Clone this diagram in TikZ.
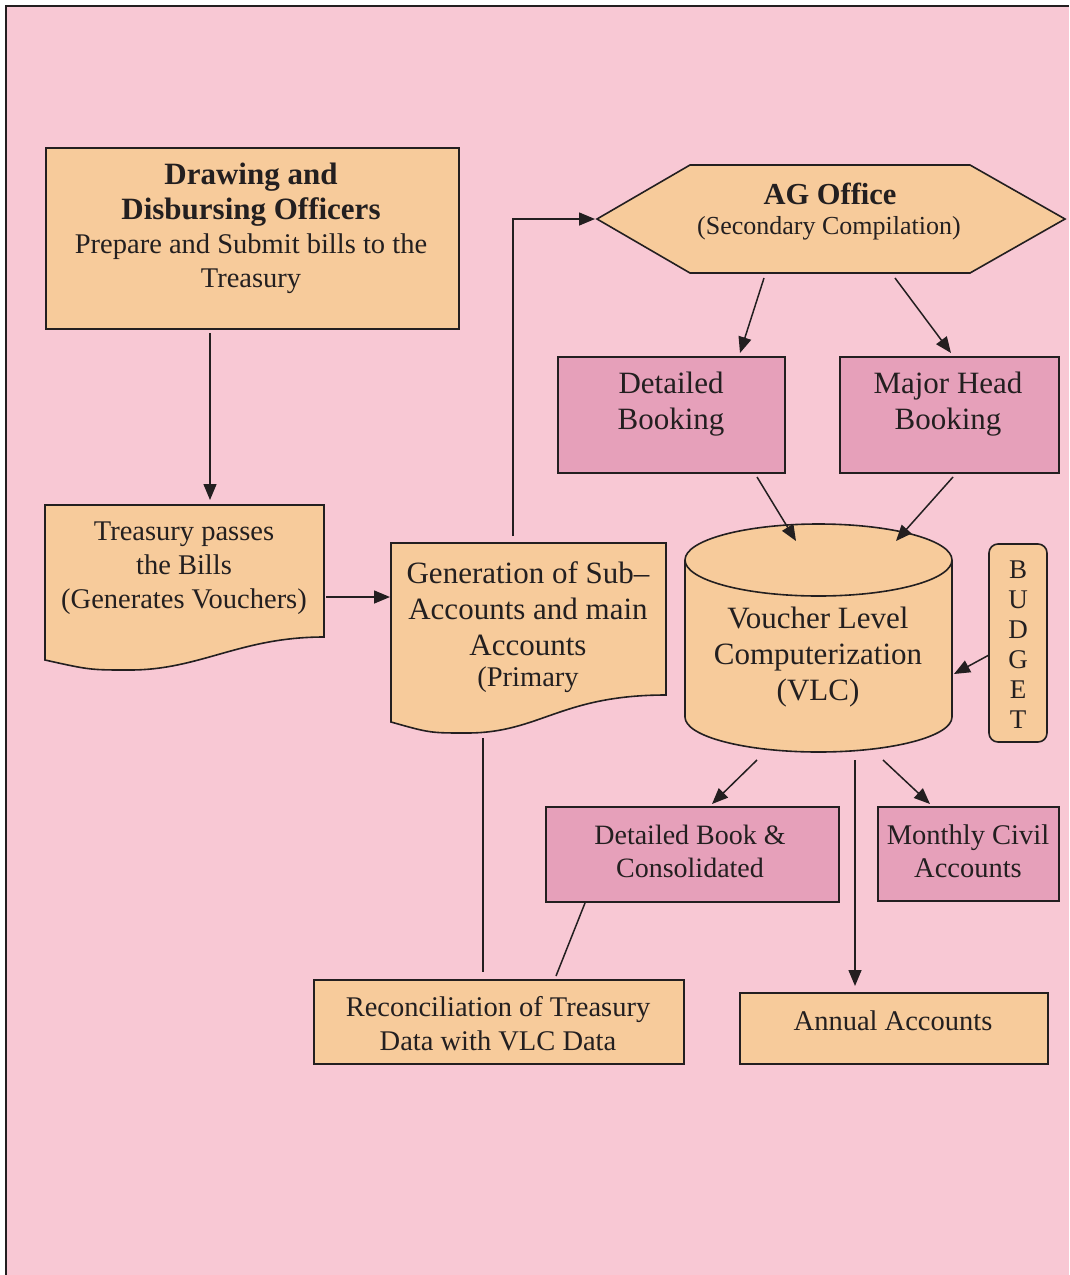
\documentclass[tikz,border=0pt]{standalone}
\usepackage{fontspec}
\setmainfont{Liberation Serif}
\usetikzlibrary{arrows.meta}
\definecolor{bgpink}{RGB}{248,200,212}
\definecolor{boxorange}{RGB}{247,203,155}
\definecolor{boxpink}{RGB}{230,160,186}
\definecolor{ink}{RGB}{35,31,32}
\tikzset{
  shapeline/.style={draw=ink, line width=1.6pt},
  obox/.style={shapeline, fill=boxorange},
  pbox/.style={shapeline, fill=boxpink},
  conn/.style={draw=ink, line width=1.5pt},
  arr/.style={conn, -{Triangle[length=16pt,width=13pt]}},
  txt/.style={align=center, text=ink, inner sep=0pt},
  rbox/.style={rectangle, inner sep=0pt, anchor=north west},
}
\newcommand{\fsa}{\fontsize{28.5}{34}\selectfont}
\newcommand{\fsb}{\fontsize{31}{36}\selectfont}
\begin{document}
\begin{tikzpicture}[x=1pt,y=-1pt]
\useasboundingbox (0,0) rectangle (1069,1275);
% background and frame
\fill[bgpink] (6,6) rectangle (1069,1275);
\draw[ink, line width=2.2pt] (6,1275) -- (6,6) -- (1069,6);

% Drawing and Disbursing Officers
\node[rbox, obox, minimum width=413pt, minimum height=181pt] (ddo) at (45,147) {};
\node[txt, font=\fontsize{31}{35}\selectfont\bfseries] (ddot) at (251,195) {Drawing and\\Disbursing Officers};
\node[txt, font=\fsa] (ddot2) at (251,264) {Prepare and Submit bills to the\\Treasury};

% Treasury document shape
\path[obox] (45,505) -- (324,505) -- (324,637) .. controls (240,637) and (200,670) .. (130,670) .. controls (90,670) .. (45,660) -- cycle;
\node[txt, font=\fsa] (tre) at (184,568) {Treasury passes\\the Bills\\(Generates Vouchers)};

% Generation document shape
\path[obox] (391,543) -- (666,543) -- (666,695) .. controls (560,695) and (540,733) .. (467,733) .. controls (430,733) .. (391,722) -- cycle;
\node[txt, font=\fsb] (gen) at (528,609) {Generation of Sub--\\Accounts and main\\Accounts};
\node[txt, font=\fsa] (gen2) at (528,680) {(Primary};

% AG office hexagon
\path[obox] (597,219) -- (690,165) -- (970,165) -- (1065,219) -- (970,273) -- (690,273) -- cycle;
\node[txt, font=\fontsize{30.5}{34}\selectfont\bfseries] (ag) at (830,194) {AG Office};
\node[txt, font=\fontsize{26}{34}\selectfont] (ag2) at (829,228) {(Secondary Compilation)};

% Detailed Booking / Major Head Booking
\node[rbox, pbox, minimum width=227pt, minimum height=116pt] (db) at (557,356) {};
\node[txt, font=\fsb] (dbt) at (671,404) {Detailed\\Booking};
\node[rbox, pbox, minimum width=219pt, minimum height=116pt] (mh) at (839,356) {};
\node[txt, font=\fsb] (mht) at (948,404) {Major Head\\Booking};

% Cylinder VLC
\filldraw[shapeline, fill=boxorange] (818.5,717) ellipse [x radius=133.5pt, y radius=35pt];
\fill[boxorange] (685,560) rectangle (952,717);
\draw[shapeline] (685,560) -- (685,717) (952,560) -- (952,717);
\filldraw[shapeline, fill=boxorange] (818.5,560) ellipse [x radius=133.5pt, y radius=36pt];
\node[txt, font=\fsb] (vlc) at (818,657) {Voucher Level\\Computerization\\(VLC)};

% BUDGET
\draw[shapeline, fill=boxorange, rounded corners=9pt] (989,544) rectangle (1047,742);
\node[txt, font=\fontsize{27}{30}\selectfont] (bud) at (1018,645) {B\\U\\D\\G\\E\\T};

% Detailed Book & Consolidated
\node[rbox, pbox, minimum width=293pt, minimum height=95pt] (dbc) at (545,806) {};
\node[txt, font=\fontsize{28}{33}\selectfont] (dbct) at (690,851) {Detailed Book \&\\Consolidated};
% Monthly Civil Accounts
\node[rbox, pbox, minimum width=181pt, minimum height=94pt] (mca) at (877,806) {};
\node[txt, font=\fontsize{28.5}{33}\selectfont] (mcat) at (968,851) {Monthly Civil\\Accounts};

% Reconciliation
\node[rbox, obox, minimum width=370pt, minimum height=84pt] (rec) at (313,979) {};
\node[txt, font=\fsa] (rect) at (498,1024) {Reconciliation of Treasury\\Data with VLC Data};
% Annual Accounts
\node[rbox, obox, minimum width=308pt, minimum height=71pt] (ann) at (739,992) {};
\node[txt, font=\fsa] (annt) at (893,1021) {Annual Accounts};

% connector end points
\coordinate (c1a) at (210,333); \coordinate (c1b) at (210,500);
\coordinate (c2a) at (326,597); \coordinate (c2b) at (390,597);
\coordinate (c3a) at (513,536); \coordinate (c3m) at (513,219); \coordinate (c3b) at (595,219);
\coordinate (c4a) at (764,278); \coordinate (c4b) at (740,353);
\coordinate (c5a) at (895,278); \coordinate (c5b) at (951,353);
\coordinate (c6a) at (757,477); \coordinate (c6b) at (796,541);
\coordinate (c7a) at (953,477); \coordinate (c7b) at (896,541);
\coordinate (c8a) at (989,655); \coordinate (c8b) at (954,674);
\coordinate (c9a) at (757,760); \coordinate (c9b) at (712,804);
\coordinate (c10a) at (883,760); \coordinate (c10b) at (930,804);
\coordinate (c11a) at (855,760); \coordinate (c11b) at (855,986);
\coordinate (c12a) at (483,738); \coordinate (c12b) at (483,972);
\coordinate (c13a) at (585,903); \coordinate (c13b) at (556,976);

\draw[arr] (c1a) -- (c1b);
\draw[arr] (c2a) -- (c2b);
\draw[arr] (c3a) -- (c3m) -- (c3b);
\draw[arr] (c4a) -- (c4b);
\draw[arr] (c5a) -- (c5b);
\draw[arr] (c6a) -- (c6b);
\draw[arr] (c7a) -- (c7b);
\draw[arr] (c8a) -- (c8b);
\draw[arr] (c9a) -- (c9b);
\draw[arr] (c10a) -- (c10b);
\draw[arr] (c11a) -- (c11b);
\draw[conn] (c12a) -- (c12b);
\draw[conn] (c13a) -- (c13b);
\end{tikzpicture}
\end{document}
